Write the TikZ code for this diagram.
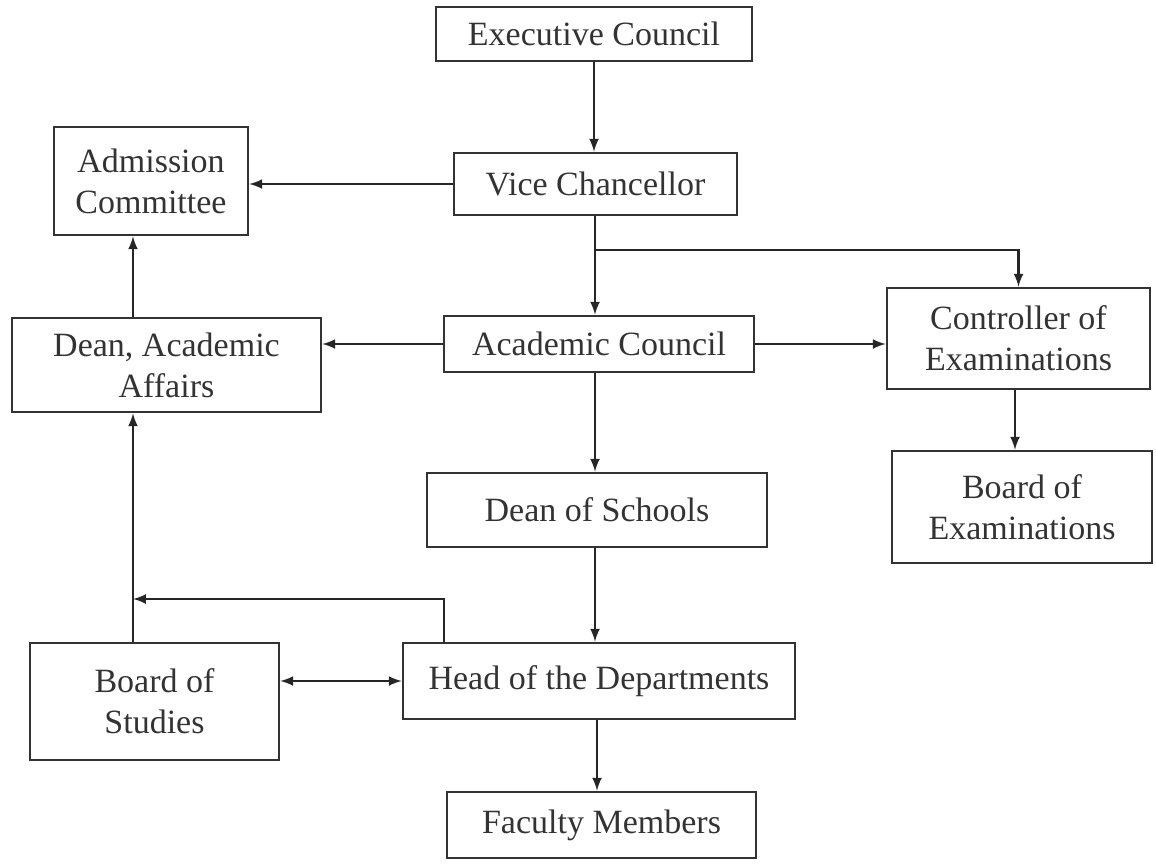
\documentclass[tikz,border=0pt]{standalone}
\usepackage{fontspec}
\setmainfont{Liberation Serif}
\begin{document}
\begin{tikzpicture}[x=0.5pt, y=-0.5pt]

      \tikzset{unit/.style={draw=black!80, line width=1.3pt, rectangle, inner sep=0pt, align=center,
                 text=black!80, font=\fontsize{17}{20.5}\selectfont}}
      \useasboundingbox (0,0) rectangle (1156,863);
%% Boxes
      	\node[unit, minimum width=158pt, minimum height=27pt] (exec) at (594,34) {Executive Council};
      	\node[unit, minimum width=141.5pt, minimum height=31pt] (vc) at (595.5,184) {Vice Chancellor};
      	\node[unit, minimum width=97pt, minimum height=54pt] (adm) at (151,181) {Admission\\Committee};
      	\node[unit, minimum width=155pt, minimum height=28pt] (ac) at (599,344) {Academic Council};
      	\node[unit, minimum width=154.5pt, minimum height=47pt] (daa) at (166.5,365) {Dean, Academic\\Affairs};
      	\node[unit, minimum width=131.5pt, minimum height=50.5pt] (coe) at (1018.5,338.5) {Controller of\\Examinations};
      	\node[unit, minimum width=130pt, minimum height=56pt] (boe) at (1022,507) {Board of\\Examinations};
      	\node[unit, minimum width=170pt, minimum height=37pt] (dos) at (597,510) {Dean of Schools};
      	\node[unit, minimum width=196pt, minimum height=38pt] (hod) at (599,681) {Head of the Departments};
      	\node[unit, minimum width=124.5pt, minimum height=58.5pt] (bos) at (154.5,701.5) {Board of\\Studies};
      	\node[unit, minimum width=154.5pt, minimum height=33pt] (fm) at (601.5,825) {Faculty Members};
      	\coordinate (split) at (595,250);
      	\coordinate (join) at (133,599);
%Edges
		\path [->, > = latex, line width=1.2pt, color=black!85] (exec) edge (exec |- vc.north);
		\path [->, > = latex, line width=1.2pt, color=black!85] (vc.west) edge (vc.west -| adm.east);
		\path [->, > = latex, line width=1.2pt, color=black!85] (vc.south -| split) edge (ac.north -| split);
		\draw [->, > = latex, line width=1.2pt, color=black!85] (split) -| (coe.north);
		\path [->, > = latex, line width=1.2pt, color=black!85] (ac.west) edge (ac.west -| daa.east);
		\path [->, > = latex, line width=1.2pt, color=black!85] (ac.east) edge (ac.east -| coe.west);
		\path [->, > = latex, line width=1.2pt, color=black!85] (daa.north -| join) edge (adm.south -| join);
		\path [->, > = latex, line width=1.2pt, color=black!85] (ac.south -| split) edge (dos.north -| split);
		\path [->, > = latex, line width=1.2pt, color=black!85] (coe.south -| 1015,0) edge (boe.north -| 1015,0);
		\path [->, > = latex, line width=1.2pt, color=black!85] (dos.south -| split) edge (hod.north -| split);
		\path [->, > = latex, line width=1.2pt, color=black!85] (bos.north -| join) edge (daa.south -| join);
		\draw [->, > = latex, line width=1.2pt, color=black!85] ([xshift=21pt]hod.north west) |- (join);
		\path [<->, > = latex, line width=1.2pt, color=black!85] (hod.west) edge (hod.west -| bos.east);
		\path [->, > = latex, line width=1.2pt, color=black!85] (hod.south -| 597,0) edge (fm.north -| 597,0);

	\end{tikzpicture}
\end{document}
